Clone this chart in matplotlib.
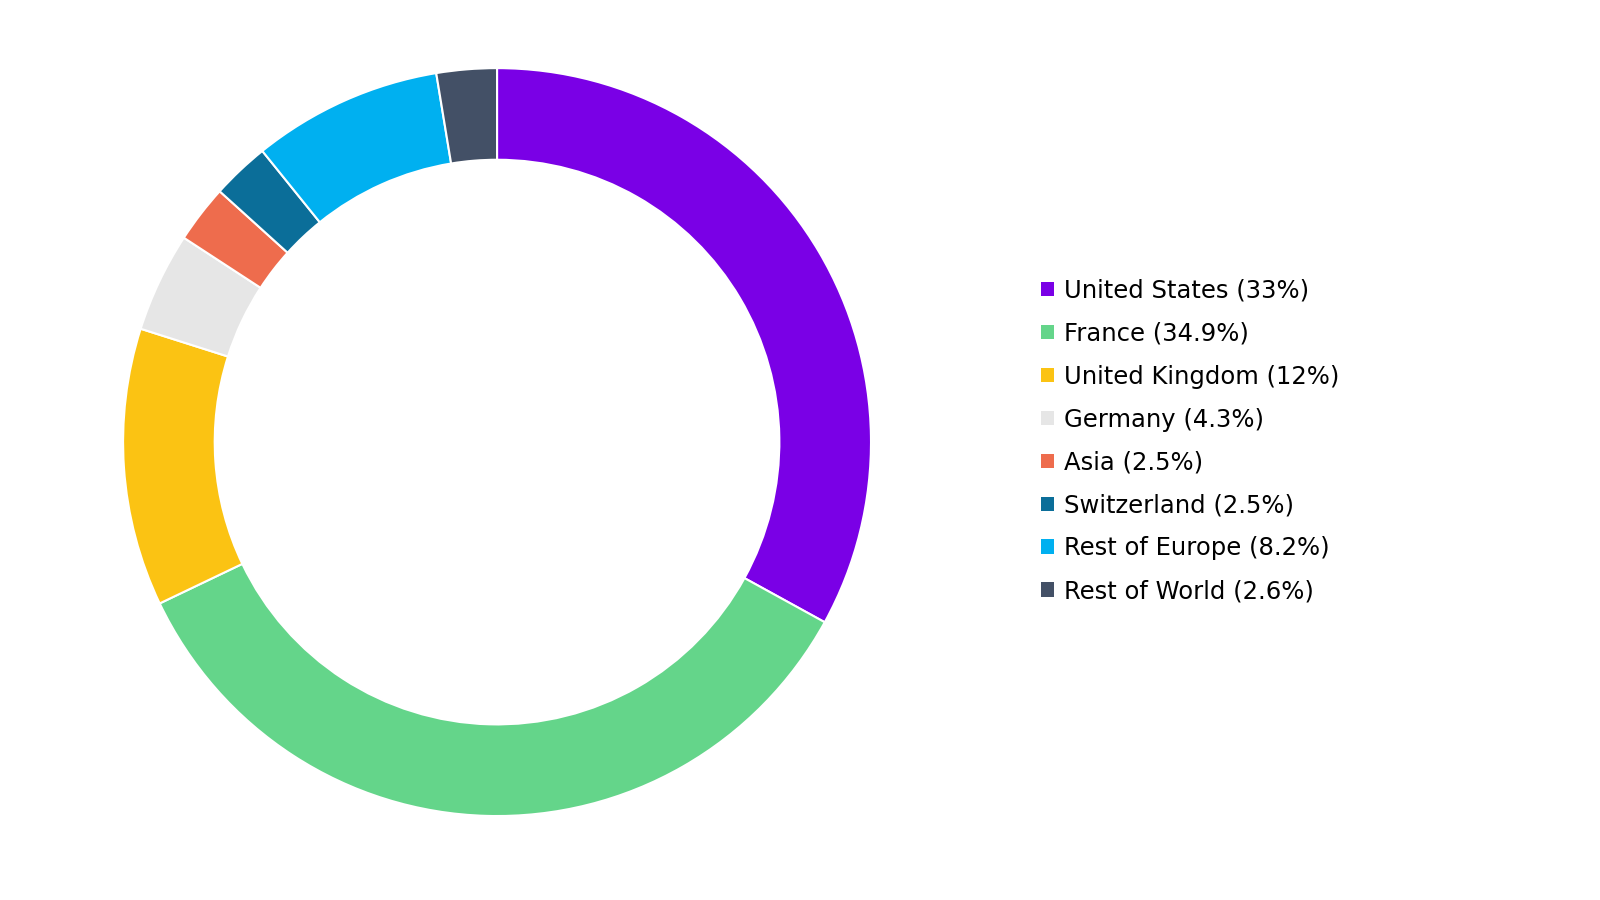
import matplotlib
matplotlib.use("Agg")
import matplotlib.pyplot as plt
from matplotlib.patches import Patch

labels = ["United States", "France", "United Kingdom", "Germany", "Asia", "Switzerland", "Rest of Europe", "Rest of World"]
values = [33, 34.9, 12, 4.3, 2.5, 2.5, 8.2, 2.6]
pct_labels = ["33%", "34.9%", "12%", "4.3%", "2.5%", "2.5%", "8.2%", "2.6%"]
colors = ["#7a00e6", "#64d58a", "#fbc313", "#e6e6e6", "#ee6c4d", "#0b6e99", "#00b0f0", "#435066"]

fig = plt.figure(figsize=(16, 9), dpi=100)
ax = fig.add_axes([0.0769, 0.0933, 0.4675, 0.831])
ax.pie(values, colors=colors, startangle=90, counterclock=False, radius=1.0,
       wedgeprops=dict(width=0.245, edgecolor="white", linewidth=1.5))
ax.set_xlim(-1, 1)
ax.set_ylim(-1, 1)
ax.set_aspect("equal")
ax.axis("off")

handles = [Patch(facecolor=c, edgecolor="none") for c in colors]
texts = [f"{l} ({p})" for l, p in zip(labels, pct_labels)]
fig.legend(handles, texts, loc="center left", bbox_to_anchor=(0.637, 0.51),
           frameon=False, fontsize=17.5, labelspacing=0.78,
           handlelength=0.55, handleheight=0.55, handletextpad=0.4,
           prop={"family": "DejaVu Sans", "size": 17.5})
fig.savefig("out.png", dpi=100, facecolor="white")
